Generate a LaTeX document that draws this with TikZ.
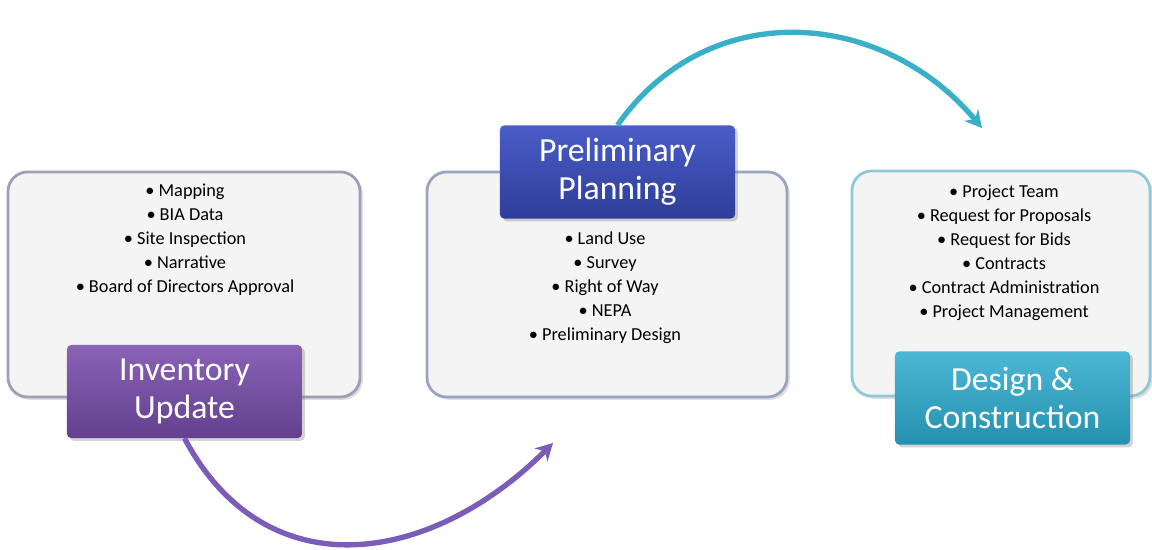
\documentclass[tikz,border=0pt]{standalone}
\usepackage{fontspec}
\setmainfont{Carlito}
\usetikzlibrary{arrows.meta,shadows}

\definecolor{boxGrey}{HTML}{F4F4F4}
\definecolor{invEdge}{HTML}{A59BB8}
\definecolor{planEdge}{HTML}{9AA3C0}
\definecolor{designEdge}{HTML}{8FC8D8}
\definecolor{invTop}{HTML}{8A62B6}
\definecolor{invBottom}{HTML}{62408F}
\definecolor{planTop}{HTML}{4A5DC8}
\definecolor{planBottom}{HTML}{2E3D98}
\definecolor{designTop}{HTML}{4DB8D6}
\definecolor{designBottom}{HTML}{2290AE}
\definecolor{invArrow}{HTML}{7B5CB8}
\definecolor{designArrow}{HTML}{3AB0C8}

\tikzset{
  listbox/.style={draw, line width=2pt, rounded corners=14pt, fill=boxGrey,
    minimum height=5.625cm, drop shadow={opacity=0.25, shadow xshift=2pt, shadow yshift=-2pt}},
  titlebox/.style={rounded corners=3pt, minimum width=5.875cm, minimum height=2.325cm,
    text=white, align=center, font=\fontsize{24}{27}\selectfont,
    drop shadow={opacity=0.35, shadow xshift=2pt, shadow yshift=-2pt}},
  itemlist/.style={anchor=north, align=center, inner sep=0pt, font=\fontsize{13}{17}\selectfont},
  flowarrow/.style={line width=3.8pt, -{Stealth[length=12pt,width=13pt]}}
}

\begin{document}
\begin{tikzpicture}[x=0.025cm, y=0.025cm]
\useasboundingbox (0,0) rectangle (1152,550);

% Content boxes
\node[listbox, draw=invEdge, minimum width=8.8cm] (invBox) at (184,265.5) {};
\node[listbox, draw=planEdge, minimum width=9.0cm] (planBox) at (607,265.5) {};
\node[listbox, draw=designEdge, minimum width=7.45cm] (designBox) at (1001,266.5) {};

% Item lists
\node[itemlist] (invList) at (185,366) {• Mapping\\ • BIA Data\\ • Site Inspection\\ • Narrative\\ • Board of Directors Approval};
\node[itemlist] (planList) at (605,318) {• Land Use\\ • Survey\\ • Right of Way\\ • NEPA\\ • Preliminary Design};
\node[itemlist] (designList) at (1004,365) {• Project Team\\ • Request for Proposals\\ • Request for Bids\\ • Contracts\\ • Contract Administration\\ • Project Management};

% Stage titles
\node[titlebox, top color=invTop, bottom color=invBottom] (invTitle) at (184.5,158.5) {Inventory\\Update};
\node[titlebox, top color=planTop, bottom color=planBottom] (planTitle) at (617.5,378) {Preliminary\\Planning};
\node[titlebox, top color=designTop, bottom color=designBottom] (designTitle) at (1012.5,152) {Design \&\\Construction};

% Arrows between stages
\coordinate (planIn) at (553,107);
\coordinate (designIn) at (982,422);
\draw[flowarrow, invArrow] (invTitle.south) to[out=-62, in=-135, looseness=1.2] (planIn);
\draw[flowarrow, designArrow] (planTitle.north) to[out=55, in=130, looseness=1.1] (designIn);
\end{tikzpicture}
\end{document}
